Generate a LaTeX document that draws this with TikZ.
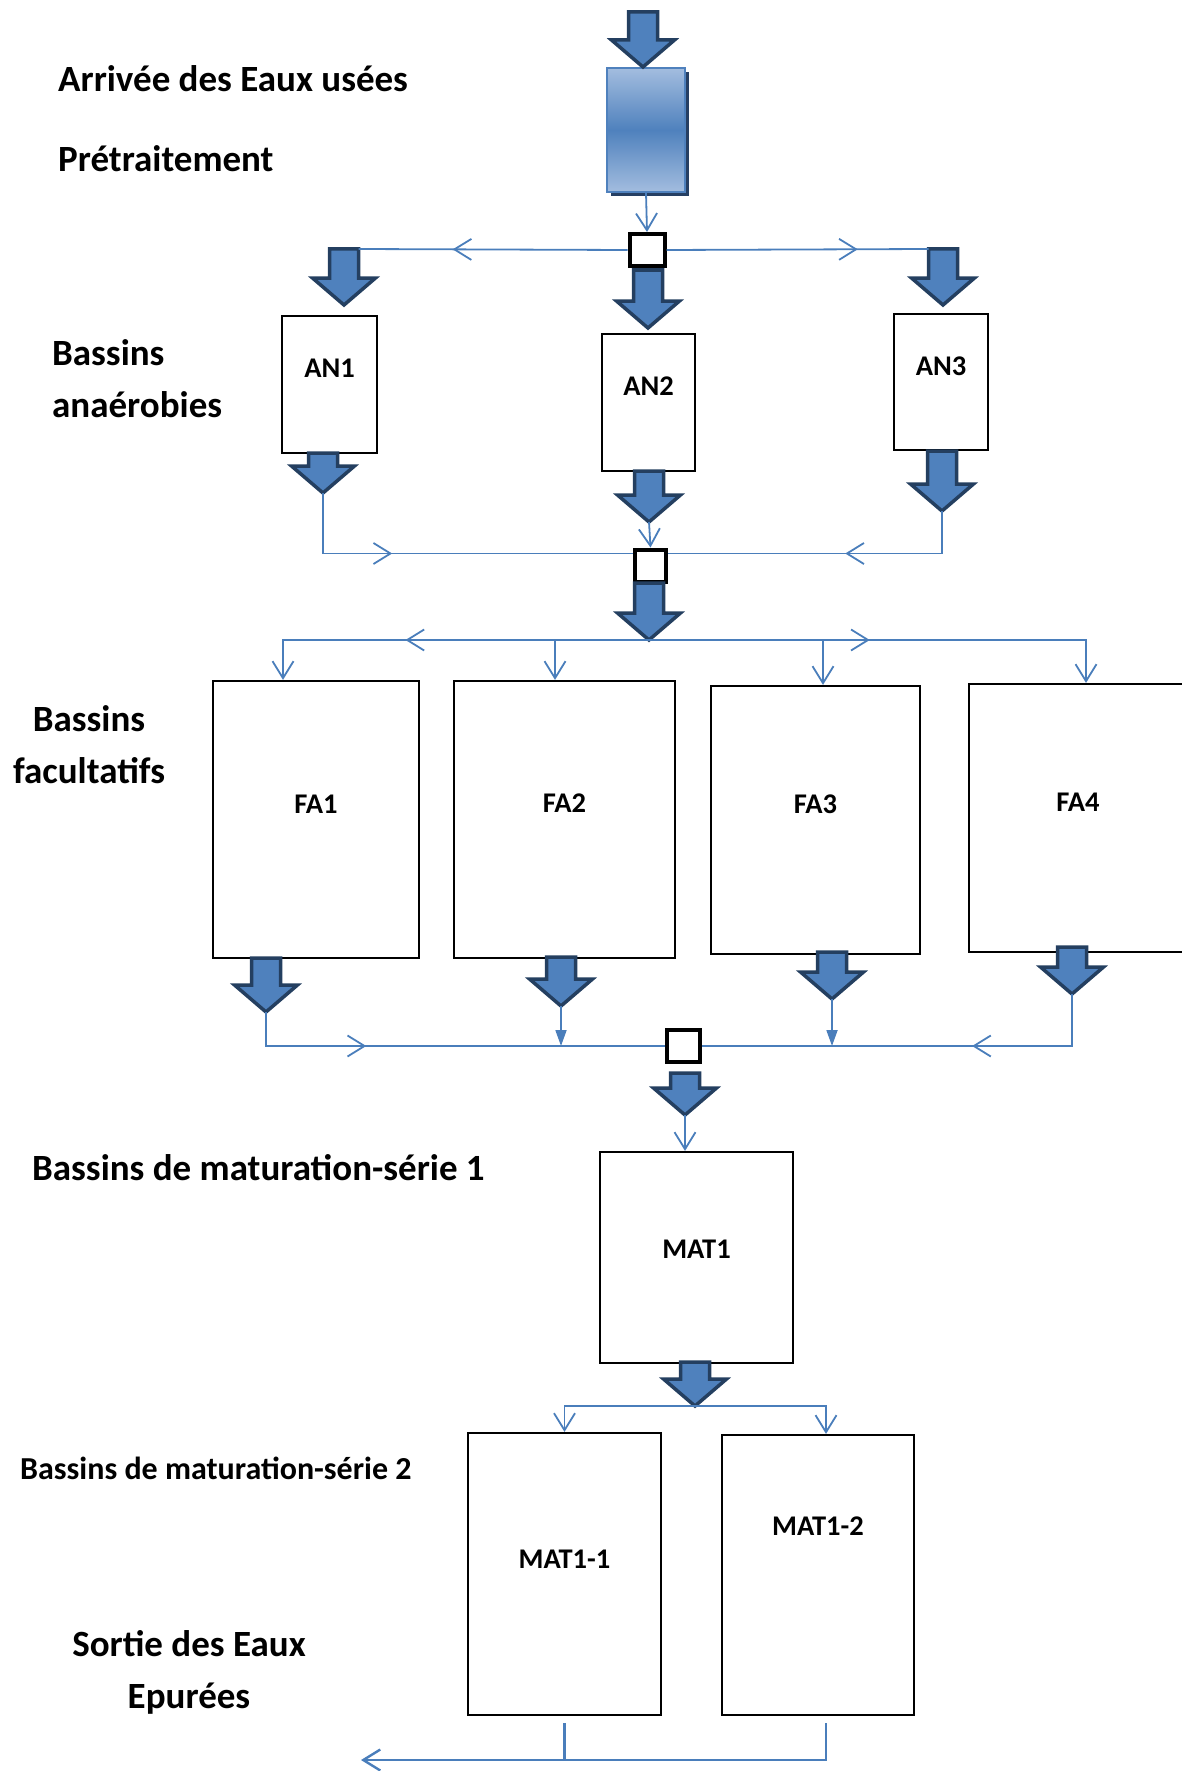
\documentclass[tikz,border=0pt]{standalone}
\usepackage{fontspec}
\setmainfont{Carlito}
\usetikzlibrary{calc, positioning}
\usetikzlibrary{arrows.meta, decorations.markings, shadows}

\definecolor{flowblue}{HTML}{4A7EBB}
\definecolor{arrowfill}{HTML}{4F81BD}
\definecolor{arrowedge}{HTML}{243F60}
\definecolor{prelight}{HTML}{A3BDDF}
\definecolor{preshadow}{HTML}{263F63}

\tikzset{
	pics/bigarrow/.style={code={
		\filldraw[fill=arrowfill, draw=arrowedge, line width=3.5pt]
		    (-14.5,0) -- (14.5,0) -- (14.5,#1-27) -- (31.5,#1-27) -- (0,#1)
		    -- (-31.5,#1-27) -- (-14.5,#1-27) -- cycle;
		\coordinate (-tip) at (0,#1);
		\coordinate (-nw)  at (-14.5,0);
		\coordinate (-ne)  at (14.5,0);
	}},
	basin/.style 2 args={draw, line width=2.2pt, inner sep=0pt, fill=white,
	                     minimum width=#1, minimum height=#2},
	junction/.style={draw, line width=4pt, fill=white, inner sep=0pt,
	                 minimum width=#1, minimum height=32pt},
	tag/.style={font=\fontsize{28.5}{34}\selectfont\bfseries},
	side/.style={font=\fontsize{37}{44}\selectfont\bfseries, inner sep=0pt},
	flow/.style={flowblue, line width=1.8pt},
	midarrow/.style={postaction={decorate},
	                 decoration={markings, mark=at position #1 with {\arrow{>}}}},
}

\begin{document}
\begin{tikzpicture}[x=1pt, y=-1pt, >={Straight Barb[length=17pt,width=21pt]}]
		\useasboundingbox (0,0) rectangle (1182,1771);

		% side texts
		\node[side, anchor=base west] (t-in)   at (58,92)  {Arrivée des Eaux usées};
		\node[side, anchor=base west] (t-pre)  at (58,172) {Prétraitement};
		\node[side, anchor=base west] (t-an1)  at (52,365) {Bassins};
		\node[side, anchor=base west] (t-an2)  at (52,417) {anaérobies};
		\node[side, anchor=base]      (t-fa1)  at (89,731) {Bassins};
		\node[side, anchor=base]      (t-fa2)  at (89,783) {facultatifs};
		\node[side, anchor=base west] (t-mat1) at (32,1180) {Bassins de maturation-série 1};
		\node[side, anchor=base west, font=\fontsize{32}{38}\selectfont\bfseries]
		                              (t-mat2) at (20,1479) {Bassins de maturation-série 2};
		\node[side, anchor=base]      (t-out1) at (189,1656) {Sortie des Eaux};
		\node[side, anchor=base]      (t-out2) at (189,1708) {Epurées};

		% basins and junctions
		\node[draw=arrowfill, line width=1.5pt, minimum width=78pt, minimum height=124pt,
		      top color=prelight, bottom color=prelight, middle color=arrowfill,
		      drop shadow={shadow xshift=4pt, shadow yshift=-4pt, fill=preshadow, opacity=1}]
		      (pre) at (646,130) {};
		\node[junction=35pt] (sq1) at (647,250)    {};
		\node[junction=31pt] (sq2) at (650.5,565.5) {};
		\node[junction=33pt] (sq3) at (683.5,1046)  {};

		\node[basin={95}{137}]  (an1)  at (329.5,384.5) {};
		\node[basin={93}{137}]  (an2)  at (648.5,402.5) {};
		\node[basin={94}{136}]  (an3)  at (941,382)     {};
		\node[basin={206}{277}] (fa1)  at (316,819.5)   {};
		\node[basin={221}{277}] (fa2)  at (564.5,819.5) {};
		\node[basin={209}{268}] (fa3)  at (815.5,820)   {};
		\node[basin={218}{268}] (fa4)  at (1078,818)    {};
		\node[basin={193}{211}] (mat1) at (696.5,1257.5){};
		\node[basin={193}{282}] (mat11) at (564.5,1574) {};
		\node[basin={192}{280}] (mat12) at (818,1575)   {};

		\node[tag] at ([yshift=-53pt]an1.north)   {AN1};
		\node[tag] at ([yshift=-53pt]an2.north)   {AN2};
		\node[tag] at ([yshift=-53pt]an3.north)   {AN3};
		\node[tag] at ([yshift=-124pt]fa1.north)  {FA1};
		\node[tag] at ([yshift=-123pt]fa2.north)  {FA2};
		\node[tag] at ([yshift=-119pt]fa3.north)  {FA3};
		\node[tag] at ([yshift=-119pt]fa4.north)  {FA4};
		\node[tag] at ([yshift=-98pt]mat1.north)  {MAT1};
		\node[tag] at ([yshift=-127pt]mat11.north){MAT1-1};
		\node[tag] at ([yshift=-92pt]mat12.north) {MAT1-2};

		% block arrows
		\pic (inflow) at (643,12)     {bigarrow=55};
		\pic (an1in)  at (344,249)    {bigarrow=56};
		\pic (an2in)  at (648,270)    {bigarrow=58};
		\pic (an3in)  at (943,249)    {bigarrow=56};
		\pic (an1out) at (323,453)    {bigarrow=40};
		\pic (an2out) at (649,471)    {bigarrow=51};
		\pic (an3out) at (942,451)    {bigarrow=60};
		\pic (fain)   at (649,583)    {bigarrow=57};
		\pic (fa1out) at (266,958)    {bigarrow=54};
		\pic (fa2out) at (561,957)    {bigarrow=49};
		\pic (fa3out) at (832,952)    {bigarrow=47};
		\pic (fa4out) at (1072,947)   {bigarrow=47};
		\pic (matin)  at (685,1073)   {bigarrow=42};
		\pic (matout) at (695,1362)   {bigarrow=44};

		% connectors
		\draw[flow, ->] (pre.south) -- (sq1.north);
		\draw[flow, midarrow=0.65] (sq1.west) -- (an1in-ne);
		\draw[flow, midarrow=0.73] (sq1.east) -- (an3in-nw);
		\draw[flow, midarrow=0.35] (an1out-tip) |- ([yshift=12pt]sq2.west);
		\draw[flow, midarrow=0.44] (an3out-tip) |- ([yshift=12pt]sq2.east);
		\draw[flow, ->] (an2out-tip) -- (sq2.north);
		\draw[flow, ->, midarrow=0.6] (fain-tip) -| ([xshift=-33pt]fa1.north);
		\draw[flow, ->] (fain-tip) -| ([xshift=-9.5pt]fa2.north);
		\draw[flow, ->] (fain-tip) -| ([xshift=7.5pt]fa3.north);
		\draw[flow, ->, midarrow=0.46] (fain-tip) -| ([xshift=8pt]fa4.north);
		\draw[flow, midarrow=0.31] (fa1out-tip) |- (sq3.west);
		\draw[flow, midarrow=0.36] (fa4out-tip) |- (sq3.east);
		\draw[flow, -{Triangle[length=16pt,width=11pt]}] (fa2out-tip) -- (fa2out-tip |- sq3.west);
		\draw[flow, -{Triangle[length=16pt,width=11pt]}] (fa3out-tip) -- (fa3out-tip |- sq3.east);
		\draw[flow, ->] (matin-tip) -- (matin-tip |- mat1.north);
		\draw[flow, ->] (matout-tip) -| (mat11.north);
		\draw[flow, ->] (matout-tip) -| ([xshift=8pt]mat12.north);

		\coordinate (outlet) at (361,1760);
		\draw[flow, line width=2.4pt, ->] ([xshift=8pt, yshift=-7pt]mat12.south) |- (outlet);
		\draw[flow, line width=2.4pt] ([yshift=-7pt]mat11.south) -- (mat11.south |- outlet);
	\end{tikzpicture}
\end{document}
